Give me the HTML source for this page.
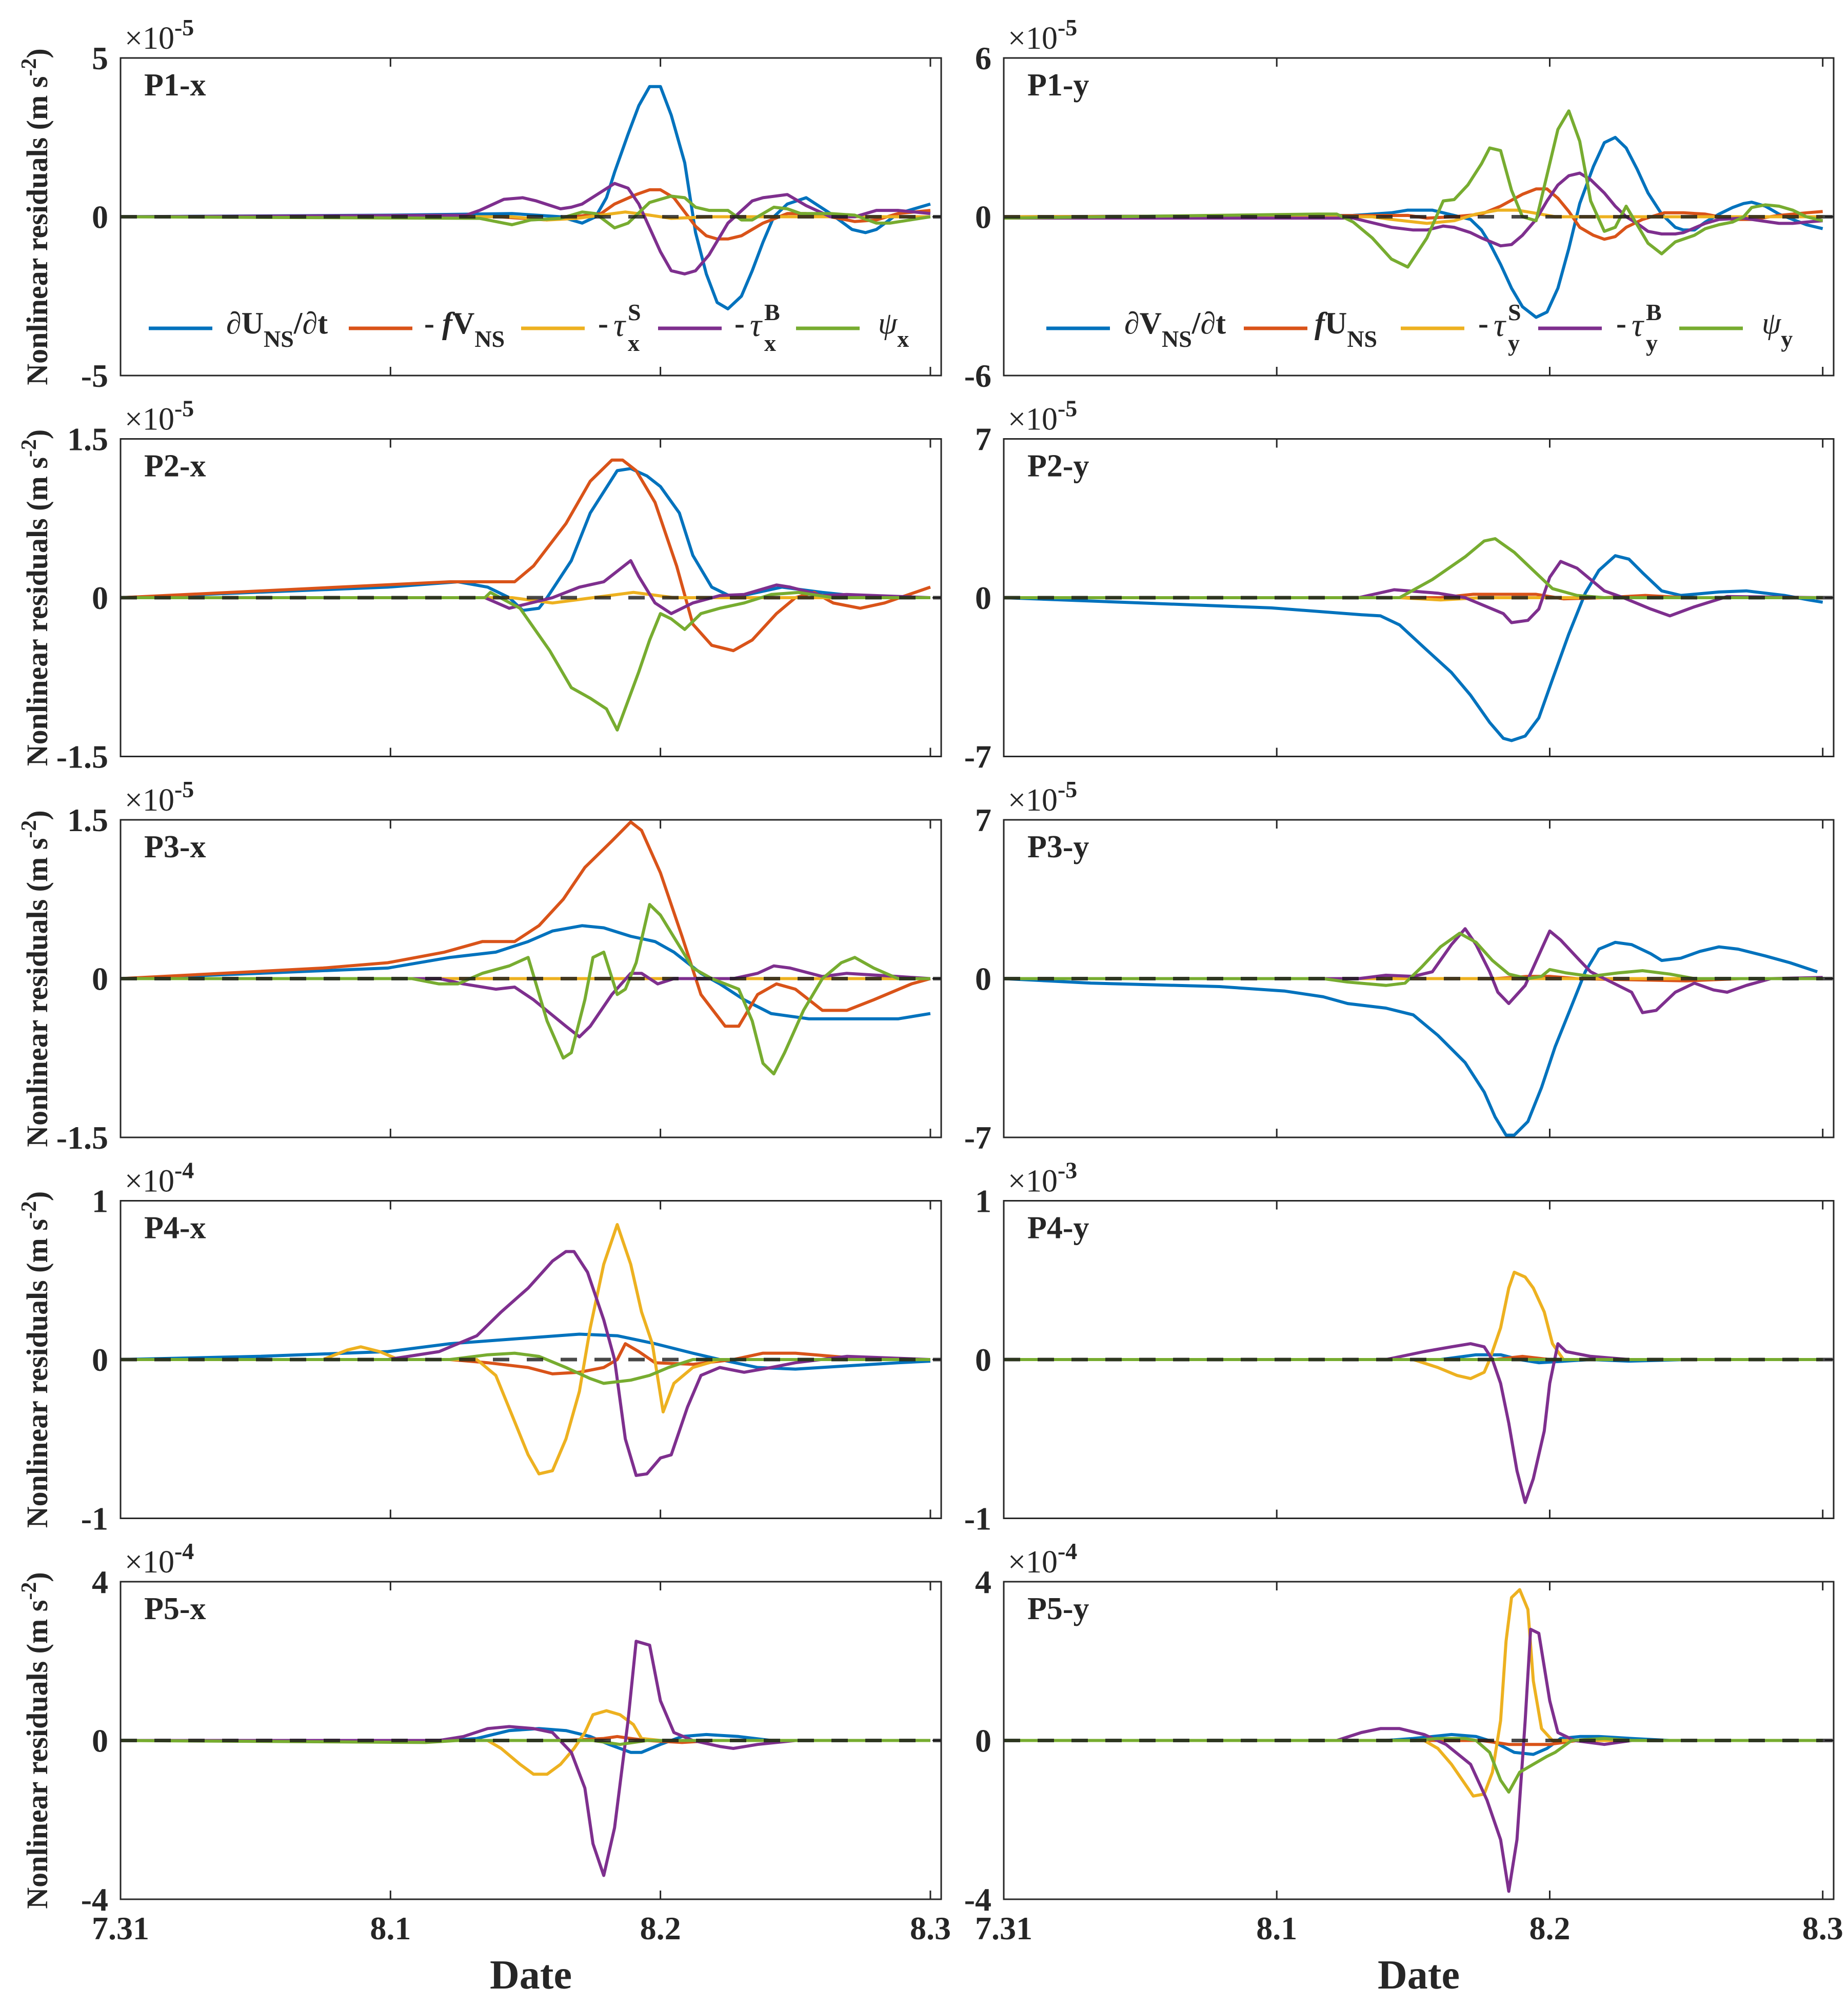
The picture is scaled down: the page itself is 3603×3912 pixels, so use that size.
<!DOCTYPE html>
<html><head><meta charset="utf-8"><title>Nonlinear residuals</title>
<style>html,body{margin:0;padding:0;background:#fff}svg{display:block}
text{font-family:"Liberation Serif",serif;fill:#262626}</style></head>
<body>
<svg id="fig" xmlns="http://www.w3.org/2000/svg" width="3603" height="3912" viewBox="0 0 3603 3912"></svg>
<script>
// x tick categories (days since 7.31)
const xTickDays = [0, 1, 2, 3];
const xTickLabels = ["7.31", "8.1", "8.2", "8.3"];
const xMaxDay = 3.04;
const colors = ["#0072BD", "#D95319", "#EDB120", "#7E2F8E", "#77AC30"];

// panel y-limits (in multiplier units) and exponent labels
const yMaxLeft = [5, 1.5, 1.5, 1, 4];
const yMaxRight = [6, 7, 7, 1, 4];
const expLeft = ["-5", "-5", "-5", "-4", "-4"];
const expRight = ["-5", "-5", "-5", "-3", "-4"];
const labelsLeft = ["P1-x", "P2-x", "P3-x", "P4-x", "P5-x"];
const labelsRight = ["P1-y", "P2-y", "P3-y", "P4-y", "P5-y"];

// ===== P1-x ([day, value]) =====
const p1x_blue = [[0,0],[1.0,0.05],[1.45,0.1],[1.63,0],[1.71,-0.2],[1.76,0],[1.80,0.6],[1.83,1.4],[1.88,2.6],[1.92,3.5],[1.96,4.1],[2.0,4.1],[2.04,3.2],[2.09,1.7],[2.13,-0.5],[2.17,-1.8],[2.21,-2.7],[2.25,-2.9],[2.30,-2.5],[2.34,-1.7],[2.38,-0.8],[2.42,0],[2.47,0.4],[2.54,0.6],[2.63,0.1],[2.71,-0.4],[2.76,-0.5],[2.80,-0.4],[2.88,0.1],[2.96,0.3],[3.0,0.4]];
const p1x_orange = [[0,0],[1.4,0],[1.58,-0.1],[1.78,0.1],[1.83,0.4],[1.91,0.7],[1.96,0.85],[2.0,0.85],[2.05,0.6],[2.13,-0.3],[2.17,-0.6],[2.21,-0.7],[2.25,-0.7],[2.30,-0.6],[2.38,-0.2],[2.47,0.1],[2.54,0.1],[2.63,0],[2.72,-0.15],[2.80,-0.1],[2.88,0.1],[3.0,0.2]];
const p1x_yellow = [[0,0],[1.45,0],[1.58,-0.1],[1.69,-0.05],[1.78,0.05],[1.87,0.15],[1.96,0.05],[2.04,-0.05],[2.2,0],[3.0,0]];
const p1x_purple = [[0,0],[1.28,0.05],[1.33,0.2],[1.42,0.55],[1.49,0.6],[1.54,0.5],[1.63,0.25],[1.67,0.3],[1.71,0.4],[1.83,1.05],[1.88,0.9],[1.92,0.4],[2.0,-1.1],[2.04,-1.7],[2.09,-1.8],[2.13,-1.7],[2.18,-1.2],[2.25,-0.2],[2.34,0.5],[2.38,0.6],[2.47,0.7],[2.54,0.35],[2.63,0],[2.72,0],[2.80,0.2],[2.88,0.2],[3.0,0.1]];
const p1x_green = [[0,0],[1.33,-0.05],[1.42,-0.2],[1.45,-0.25],[1.52,-0.1],[1.63,-0.05],[1.71,0.15],[1.76,0.1],[1.83,-0.35],[1.88,-0.2],[1.96,0.45],[2.04,0.65],[2.09,0.6],[2.13,0.3],[2.18,0.2],[2.25,0.2],[2.30,-0.1],[2.34,-0.1],[2.42,0.3],[2.47,0.25],[2.52,0.1],[2.63,0.1],[2.72,0.05],[2.80,-0.2],[2.85,-0.2],[3.0,0]];
// ===== P1-y =====
const p1y_blue = [[0,0],[1.28,0.05],[1.42,0.15],[1.48,0.25],[1.57,0.25],[1.65,0.05],[1.71,-0.1],[1.75,-0.5],[1.78,-1.0],[1.82,-1.8],[1.86,-2.7],[1.90,-3.4],[1.95,-3.8],[1.99,-3.6],[2.03,-2.7],[2.07,-1.2],[2.11,0.5],[2.16,1.9],[2.20,2.8],[2.24,3.0],[2.28,2.6],[2.32,1.8],[2.36,0.9],[2.41,0.1],[2.46,-0.4],[2.49,-0.5],[2.53,-0.5],[2.57,-0.2],[2.62,0.1],[2.67,0.35],[2.71,0.5],[2.74,0.55],[2.79,0.4],[2.84,0.1],[2.89,-0.1],[2.94,-0.3],[3.0,-0.45]];
const p1y_orange = [[0,0],[1.48,0.05],[1.55,-0.05],[1.65,0],[1.75,0.1],[1.82,0.4],[1.90,0.85],[1.95,1.05],[1.99,1.05],[2.03,0.7],[2.07,0.2],[2.11,-0.4],[2.16,-0.7],[2.20,-0.85],[2.24,-0.75],[2.28,-0.4],[2.34,-0.1],[2.42,0.15],[2.49,0.15],[2.57,0.1],[2.67,-0.1],[2.74,-0.1],[2.84,0.05],[2.94,0.15],[3.0,0.2]];
const p1y_yellow = [[0,0],[1.35,0],[1.42,-0.1],[1.55,-0.25],[1.65,-0.15],[1.73,0.1],[1.81,0.25],[1.88,0.25],[1.94,0.15],[2.02,0],[3.0,0]];
const p1y_purple = [[0,-0.05],[1.22,-0.05],[1.28,-0.05],[1.42,-0.4],[1.50,-0.5],[1.55,-0.5],[1.61,-0.35],[1.65,-0.4],[1.71,-0.6],[1.75,-0.8],[1.82,-1.1],[1.86,-1.05],[1.90,-0.7],[1.95,-0.1],[1.99,0.6],[2.03,1.2],[2.07,1.55],[2.11,1.65],[2.15,1.4],[2.20,0.9],[2.24,0.4],[2.28,0],[2.32,-0.25],[2.36,-0.55],[2.41,-0.65],[2.46,-0.65],[2.49,-0.6],[2.57,-0.25],[2.62,-0.1],[2.71,-0.05],[2.74,-0.1],[2.84,-0.25],[2.89,-0.25],[2.94,-0.2],[3.0,-0.15]];
const p1y_green = [[0,-0.05],[1.15,0.1],[1.22,0.1],[1.28,-0.2],[1.35,-0.8],[1.42,-1.6],[1.48,-1.9],[1.55,-0.8],[1.61,0.6],[1.65,0.65],[1.70,1.2],[1.75,2.0],[1.78,2.6],[1.82,2.5],[1.86,1.0],[1.90,0],[1.95,-0.15],[2.03,3.3],[2.07,4.0],[2.11,2.85],[2.15,0.6],[2.20,-0.55],[2.24,-0.4],[2.28,0.4],[2.32,-0.3],[2.36,-1.0],[2.41,-1.4],[2.46,-0.95],[2.53,-0.7],[2.57,-0.45],[2.62,-0.3],[2.67,-0.2],[2.71,0],[2.74,0.35],[2.79,0.45],[2.84,0.4],[2.89,0.25],[2.94,0],[3.0,-0.15]];
// ===== P2-x =====
const p2x_blue = [[0,0],[0.99,0.1],[1.25,0.15],[1.36,0.1],[1.44,0],[1.49,-0.12],[1.55,-0.1],[1.58,0],[1.67,0.35],[1.74,0.8],[1.84,1.2],[1.89,1.22],[1.95,1.15],[2.0,1.05],[2.07,0.8],[2.12,0.4],[2.19,0.1],[2.27,0],[2.36,0.05],[2.45,0.1],[2.60,0.05],[2.79,0],[3.0,0]];
const p2x_orange = [[0,0],[1.22,0.15],[1.46,0.15],[1.53,0.3],[1.65,0.7],[1.74,1.1],[1.82,1.3],[1.86,1.3],[1.91,1.2],[1.98,0.9],[2.06,0.3],[2.12,-0.25],[2.19,-0.45],[2.27,-0.5],[2.34,-0.4],[2.43,-0.15],[2.50,0],[2.57,0.05],[2.64,-0.05],[2.74,-0.1],[2.83,-0.05],[3.0,0.1]];
const p2x_yellow = [[0,0],[1.45,0],[1.6,-0.05],[1.75,0],[1.9,0.05],[2.05,0],[3.0,0]];
const p2x_purple = [[0,0],[1.35,0],[1.44,-0.1],[1.6,0],[1.7,0.1],[1.79,0.15],[1.89,0.35],[1.92,0.2],[1.98,-0.05],[2.04,-0.15],[2.12,-0.05],[2.22,0.02],[2.31,0.03],[2.43,0.12],[2.48,0.1],[2.60,0.02],[2.69,0.03],[3.0,0]];
const p2x_green = [[0,0],[1.35,0],[1.37,0.05],[1.48,-0.1],[1.59,-0.5],[1.67,-0.85],[1.74,-0.95],[1.80,-1.05],[1.84,-1.25],[1.92,-0.7],[1.96,-0.4],[2.0,-0.15],[2.04,-0.2],[2.09,-0.3],[2.15,-0.15],[2.22,-0.1],[2.31,-0.05],[2.41,0.03],[2.51,0.05],[2.64,0],[3.0,0]];
// ===== P2-y =====
const p2y_blue = [[0,0],[0.98,-0.45],[1.31,-0.75],[1.38,-0.8],[1.45,-1.2],[1.54,-2.2],[1.64,-3.3],[1.71,-4.3],[1.78,-5.5],[1.83,-6.2],[1.86,-6.3],[1.91,-6.1],[1.96,-5.3],[2.01,-3.6],[2.07,-1.6],[2.13,0.2],[2.18,1.2],[2.24,1.85],[2.29,1.7],[2.34,1.1],[2.41,0.3],[2.48,0.1],[2.62,0.25],[2.72,0.3],[2.86,0.1],[2.95,-0.1],[3.0,-0.2]];
const p2y_orange = [[0,0],[1.6,0],[1.72,0.15],[1.95,0.15],[2.05,-0.05],[2.2,0],[2.35,0.1],[2.5,0],[3.0,0]];
const p2y_yellow = [[0,0],[1.45,0],[1.6,-0.1],[1.75,0],[3.0,0]];
const p2y_purple = [[0,0],[1.3,0],[1.43,0.35],[1.59,0.2],[1.69,0],[1.83,-0.7],[1.86,-1.1],[1.92,-1.0],[1.96,-0.5],[2.0,0.9],[2.04,1.6],[2.1,1.3],[2.2,0.3],[2.27,0],[2.37,-0.5],[2.44,-0.8],[2.53,-0.4],[2.65,0.05],[3.0,0]];
const p2y_green = [[0,0],[1.45,0],[1.57,0.8],[1.69,1.8],[1.76,2.5],[1.8,2.6],[1.87,2.0],[1.94,1.2],[2.01,0.4],[2.1,0.1],[2.2,0],[3.0,0]];
// ===== P3-x =====
const p3x_blue = [[0,0],[0.51,0.05],[0.99,0.1],[1.22,0.2],[1.39,0.25],[1.51,0.35],[1.6,0.45],[1.71,0.5],[1.79,0.48],[1.89,0.4],[1.98,0.35],[2.05,0.25],[2.15,0.05],[2.22,-0.05],[2.31,-0.2],[2.41,-0.33],[2.55,-0.38],[2.88,-0.38],[3.0,-0.33]];
const p3x_orange = [[0,0],[0.75,0.1],[0.99,0.15],[1.2,0.25],[1.34,0.35],[1.46,0.35],[1.55,0.5],[1.64,0.75],[1.72,1.05],[1.82,1.3],[1.89,1.48],[1.93,1.4],[2.0,1.0],[2.08,0.4],[2.15,-0.15],[2.24,-0.45],[2.29,-0.45],[2.36,-0.15],[2.43,-0.05],[2.50,-0.1],[2.6,-0.3],[2.69,-0.3],[2.79,-0.2],[2.93,-0.05],[3.0,0]];
const p3x_yellow = [[0,0],[3.0,0]];
const p3x_purple = [[0,0],[1.18,0],[1.27,-0.05],[1.39,-0.1],[1.46,-0.08],[1.53,-0.2],[1.65,-0.45],[1.7,-0.55],[1.74,-0.45],[1.82,-0.15],[1.89,0.05],[1.93,0.05],[1.99,-0.05],[2.05,0],[2.27,0],[2.36,0.05],[2.42,0.12],[2.48,0.1],[2.6,0.02],[2.69,0.05],[2.88,0.02],[3.0,0]];
const p3x_green = [[0,0],[1.08,0],[1.18,-0.05],[1.25,-0.05],[1.34,0.05],[1.44,0.12],[1.51,0.2],[1.58,-0.4],[1.64,-0.75],[1.67,-0.7],[1.72,-0.2],[1.75,0.2],[1.79,0.25],[1.84,-0.15],[1.87,-0.1],[1.91,0.15],[1.96,0.7],[2.0,0.6],[2.06,0.35],[2.12,0.1],[2.19,0],[2.29,-0.1],[2.34,-0.4],[2.38,-0.8],[2.42,-0.9],[2.46,-0.7],[2.53,-0.3],[2.6,0],[2.67,0.15],[2.72,0.2],[2.79,0.1],[2.88,0],[3.0,0]];
// ===== P3-y =====
const p3y_blue = [[0,0],[0.32,-0.2],[0.79,-0.35],[1.03,-0.55],[1.17,-0.8],[1.26,-1.1],[1.4,-1.3],[1.5,-1.6],[1.59,-2.5],[1.69,-3.7],[1.76,-5.0],[1.8,-6.1],[1.84,-6.9],[1.87,-6.9],[1.92,-6.3],[1.97,-4.8],[2.02,-3.0],[2.08,-1.2],[2.13,0.3],[2.18,1.3],[2.24,1.6],[2.3,1.5],[2.37,1.1],[2.41,0.8],[2.48,0.9],[2.55,1.2],[2.62,1.4],[2.69,1.3],[2.79,1.0],[2.88,0.7],[2.98,0.3]];
const p3y_orange = [[0,0],[1.8,0],[1.92,0.1],[2.0,0.1],[2.1,0],[2.5,-0.1],[2.7,0],[3.0,0]];
const p3y_yellow = [[0,0],[3.0,0]];
const p3y_purple = [[0,0],[1.3,0],[1.4,0.15],[1.5,0.1],[1.57,0.3],[1.64,1.5],[1.69,2.2],[1.73,1.5],[1.78,0.3],[1.81,-0.6],[1.85,-1.1],[1.91,-0.3],[1.97,1.3],[2.0,2.1],[2.04,1.7],[2.11,0.8],[2.15,0.3],[2.2,0],[2.3,-0.6],[2.34,-1.5],[2.39,-1.4],[2.46,-0.6],[2.53,-0.2],[2.6,-0.5],[2.65,-0.6],[2.72,-0.3],[2.81,0],[3.0,0.05]];
const p3y_green = [[0,0],[1.17,0],[1.26,-0.15],[1.4,-0.3],[1.47,-0.2],[1.53,0.5],[1.6,1.4],[1.67,2.0],[1.73,1.6],[1.79,0.8],[1.85,0.2],[1.92,0],[1.97,0.1],[2.0,0.4],[2.06,0.25],[2.15,0.1],[2.25,0.25],[2.34,0.35],[2.44,0.2],[2.53,0],[3.0,0]];
// ===== P4-x =====
const p4x_blue = [[0,0],[0.51,0.02],[0.99,0.05],[1.22,0.1],[1.46,0.13],[1.7,0.16],[1.84,0.15],[1.98,0.1],[2.12,0.04],[2.22,0],[2.36,-0.05],[2.5,-0.06],[2.69,-0.04],[2.88,-0.02],[3.0,-0.01]];
const p4x_orange = [[0,0],[1.22,0],[1.36,-0.02],[1.51,-0.05],[1.6,-0.09],[1.7,-0.08],[1.79,-0.05],[1.84,0],[1.87,0.1],[1.92,0.05],[1.98,-0.02],[2.12,-0.03],[2.27,0],[2.38,0.04],[2.5,0.04],[2.64,0.02],[2.79,0],[3.0,0]];
const p4x_yellow = [[0,0],[0.75,0],[0.84,0.06],[0.89,0.08],[0.96,0.05],[1.03,0],[1.32,0],[1.39,-0.1],[1.45,-0.35],[1.51,-0.6],[1.55,-0.72],[1.6,-0.7],[1.65,-0.5],[1.7,-0.2],[1.74,0.2],[1.79,0.6],[1.84,0.85],[1.89,0.6],[1.93,0.3],[1.97,0.1],[2.01,-0.33],[2.05,-0.15],[2.12,-0.05],[2.22,0],[3.0,0]];
const p4x_purple = [[0,0],[0.99,0],[1.18,0.05],[1.32,0.15],[1.41,0.3],[1.51,0.45],[1.6,0.62],[1.65,0.68],[1.68,0.68],[1.73,0.55],[1.79,0.25],[1.83,0],[1.87,-0.5],[1.91,-0.73],[1.95,-0.72],[2.0,-0.62],[2.04,-0.6],[2.1,-0.3],[2.15,-0.1],[2.22,-0.05],[2.31,-0.08],[2.41,-0.05],[2.5,-0.02],[2.69,0.02],[3.0,0]];
const p4x_green = [[0,0],[1.22,0],[1.36,0.03],[1.46,0.04],[1.55,0.02],[1.65,-0.05],[1.74,-0.12],[1.79,-0.15],[1.89,-0.13],[1.96,-0.1],[2.03,-0.05],[2.12,0],[3.0,0]];
// ===== P4-y =====
const p4y_blue = [[0,0],[1.6,0],[1.73,0.03],[1.82,0.03],[1.89,0],[1.96,-0.02],[2.15,0],[2.29,-0.01],[2.5,0],[3.0,0]];
const p4y_orange = [[0,0],[1.8,0],[1.9,0.02],[2.0,0],[3.0,0]];
const p4y_yellow = [[0,0],[1.5,0],[1.59,-0.05],[1.66,-0.1],[1.71,-0.12],[1.76,-0.08],[1.78,0],[1.82,0.2],[1.85,0.45],[1.87,0.55],[1.91,0.52],[1.94,0.45],[1.98,0.3],[2.01,0.1],[2.05,0],[3.0,0]];
const p4y_purple = [[0,0],[1.4,0],[1.54,0.05],[1.64,0.08],[1.71,0.1],[1.76,0.08],[1.79,0],[1.82,-0.15],[1.85,-0.4],[1.88,-0.7],[1.91,-0.9],[1.94,-0.75],[1.98,-0.45],[2.0,-0.15],[2.03,0.1],[2.06,0.05],[2.15,0.02],[2.29,0],[3.0,0]];
const p4y_green = [[0,0],[3.0,0]];
// ===== P5-x =====
const p5x_blue = [[0,0],[1.22,0],[1.32,0.05],[1.44,0.25],[1.55,0.3],[1.65,0.25],[1.74,0.1],[1.81,-0.1],[1.89,-0.3],[1.93,-0.3],[2.0,-0.1],[2.08,0.1],[2.17,0.15],[2.29,0.1],[2.41,0],[3.0,0]];
const p5x_orange = [[0,0],[1.65,0],[1.79,0.05],[1.84,0.1],[1.89,0.05],[1.95,0],[2.08,-0.05],[2.2,0],[3.0,0]];
const p5x_yellow = [[0,0],[1.36,0],[1.41,-0.2],[1.48,-0.6],[1.53,-0.85],[1.58,-0.85],[1.63,-0.6],[1.68,-0.2],[1.72,0.2],[1.75,0.65],[1.8,0.75],[1.85,0.65],[1.9,0.4],[1.93,0.05],[2.0,0],[3.0,0]];
const p5x_purple = [[0,0],[1.18,0],[1.27,0.1],[1.36,0.3],[1.44,0.35],[1.53,0.3],[1.6,0.2],[1.67,-0.3],[1.72,-1.2],[1.75,-2.6],[1.79,-3.4],[1.83,-2.2],[1.88,0.5],[1.91,2.5],[1.96,2.4],[2.0,1.0],[2.05,0.2],[2.12,0],[2.22,-0.15],[2.27,-0.2],[2.36,-0.1],[2.5,0],[3.0,0]];
const p5x_green = [[0,0],[1.13,-0.05],[1.25,0],[1.75,0],[1.85,-0.1],[1.95,0],[3.0,0]];
// ===== P5-y =====
const p5y_blue = [[0,0],[1.4,0],[1.5,0.05],[1.64,0.15],[1.73,0.1],[1.8,-0.05],[1.87,-0.3],[1.94,-0.35],[1.99,-0.2],[2.04,0.05],[2.11,0.1],[2.18,0.1],[2.3,0.05],[2.44,0],[3.0,0]];
const p5y_orange = [[0,0],[1.75,0],[1.85,-0.1],[2.0,-0.1],[2.1,0],[3.0,0]];
const p5y_yellow = [[0,0],[1.54,0],[1.59,-0.2],[1.64,-0.6],[1.69,-1.1],[1.72,-1.4],[1.76,-1.35],[1.79,-0.8],[1.82,0.5],[1.84,2.5],[1.86,3.6],[1.89,3.8],[1.92,3.3],[1.94,1.5],[1.97,0.3],[2.01,0],[3.0,0]];
const p5y_purple = [[0,0],[1.22,0],[1.31,0.2],[1.38,0.3],[1.45,0.3],[1.54,0.15],[1.62,-0.1],[1.71,-0.6],[1.77,-1.5],[1.82,-2.5],[1.85,-3.8],[1.88,-2.5],[1.91,0.5],[1.93,2.8],[1.96,2.7],[2.0,1.0],[2.03,0.2],[2.09,0],[2.2,-0.1],[2.3,0],[3.0,0]];
const p5y_green = [[0,0],[1.5,0],[1.59,0.05],[1.69,0.05],[1.73,0],[1.78,-0.3],[1.82,-1.0],[1.85,-1.3],[1.89,-0.8],[1.94,-0.6],[1.99,-0.4],[2.02,-0.3],[2.08,0],[2.2,0.05],[2.3,0],[3.0,0]];

const leftSeries = [
  [p1x_blue,p1x_orange,p1x_yellow,p1x_purple,p1x_green],
  [p2x_blue,p2x_orange,p2x_yellow,p2x_purple,p2x_green],
  [p3x_blue,p3x_orange,p3x_yellow,p3x_purple,p3x_green],
  [p4x_blue,p4x_orange,p4x_yellow,p4x_purple,p4x_green],
  [p5x_blue,p5x_orange,p5x_yellow,p5x_purple,p5x_green]];
const rightSeries = [
  [p1y_blue,p1y_orange,p1y_yellow,p1y_purple,p1y_green],
  [p2y_blue,p2y_orange,p2y_yellow,p2y_purple,p2y_green],
  [p3y_blue,p3y_orange,p3y_yellow,p3y_purple,p3y_green],
  [p4y_blue,p4y_orange,p4y_yellow,p4y_purple,p4y_green],
  [p5y_blue,p5y_orange,p5y_yellow,p5y_purple,p5y_green]];
const seriesNames = ["dudt","coriolis","surface-stress","bottom-stress","psi"];

const NS = "http://www.w3.org/2000/svg";
const svg = document.getElementById("fig");
function mk(tag, attrs, parent) {
  const e = document.createElementNS(NS, tag);
  for (const k in attrs) e.setAttribute(k, attrs[k]);
  (parent || svg).appendChild(e);
  return e;
}
function txt(parent, x, y, size, weight, anchor, content) {
  const t = mk("text", {x: x, y: y, "font-size": size, "font-weight": weight, "text-anchor": anchor}, parent);
  t.innerHTML = content;
  return t;
}

function drawPanel(col, row) {
  const x0 = col ? 1957 : 235;
  const w = col ? 1618 : 1600;
  const top = 113 + row * 742.5;
  const h = 619;
  const yMax = col ? yMaxRight[row] : yMaxLeft[row];
  const sx = d => x0 + d / xMaxDay * w;
  const sy = v => top + h / 2 - v / yMax * (h / 2);
  const g = mk("g", {});
  
  

  xTickDays.forEach((d, i) => {
    const tk = mk("path", {d: `M${sx(d)},${top}v17M${sx(d)},${top+h}v-17`, stroke: "#262626", "stroke-width": 3}, g);
    
    
    if (row === 4) {
      const tl = txt(g, sx(d), 3780, 64, "bold", "middle", xTickLabels[i]);
      
      
    }
  });
  [yMax, 0, -yMax].forEach(v => {
    const yt = mk("path", {d: `M${x0},${sy(v)}h17M${x0+w},${sy(v)}h-17`, stroke: "#262626", "stroke-width": 3}, g);
    
    
    const yl = txt(g, x0 - 24, sy(v) + 22, 64, "bold", "end", v < 0 ? "-" + (-v) : String(v));
    
    
  });
  const ex = txt(g, x0 + 8, top - 18, 62, "normal", "start", "×10<tspan dy='-26' font-size='46' font-weight='bold'>" + (col ? expRight[row] : expLeft[row]) + "</tspan>");
  
  

  const series = col ? rightSeries[row] : leftSeries[row];
  series.forEach((s, i) => {
    const d = s.map((p, j) => (j ? "L" : "M") + sx(p[0]).toFixed(1) + "," + sy(p[1]).toFixed(1)).join("");
    const ln = mk("path", {d: d, fill: "none", stroke: colors[i], "stroke-width": 6, "stroke-linejoin": "round"}, g);
    
    
  });
  const z = mk("line", {x1: x0, x2: x0 + w, y1: sy(0), y2: sy(0), stroke: "#1a1a1a", "stroke-opacity": 0.8, "stroke-width": 7, "stroke-dasharray": "32 34"}, g);
  
  
  const fr = mk("rect", {x: x0, y: top, width: w, height: h, fill: "none", stroke: "#262626", "stroke-width": 3}, g);
  
  
  const pl = txt(g, x0 + 46, top + 73, 62, "bold", "start", col ? labelsRight[row] : labelsLeft[row]);
  
  

  if (!col) {
    const yt = mk("text", {x: 0, y: 0, "font-size": 58, "font-weight": "bold", "text-anchor": "middle", transform: `translate(92,${top + h/2}) rotate(-90)`}, g);
    yt.innerHTML = "Nonlinear residuals (m s<tspan dy='-22' font-size='42'>-2</tspan><tspan dy='22'>)</tspan>";
    
    
  }
  if (row === 4) {
    const xt = txt(g, x0 + w / 2, 3876, 80, "bold", "middle", "Date");
    
    
  }
}
for (let r = 0; r < 5; r++) { drawPanel(0, r); drawPanel(1, r); }

// legends
function legendEntry(parent, lineX, textX, i, kind, sub, sup) {
  const g = mk("g", {}, parent);
  
  
  mk("line", {x1: lineX, x2: lineX + 124, y1: 640, y2: 640, stroke: colors[i], "stroke-width": 7}, g);
  if (kind === "tau") {
    txt(g, textX, 650, 60, "bold", "start", "-");
    txt(g, textX + 30, 655, 64, "normal", "start", "<tspan font-style='italic'>τ</tspan>");
    txt(g, textX + 58, 624, 46, "bold", "start", sup);
    txt(g, textX + 58, 684, 46, "bold", "start", sub);
  } else {
    txt(g, textX, 650, 60, "bold", "start", kind);
  }
}
const lgL = mk("g", {});


legendEntry(lgL, 290, 441, 0, "∂U<tspan dy='26' font-size='46'>NS</tspan><tspan dy='-26'>/∂t</tspan>");
legendEntry(lgL, 680, 827, 1, "- <tspan font-style='italic'>f</tspan>V<tspan dy='26' font-size='46'>NS</tspan>");
legendEntry(lgL, 1016, 1166, 2, "tau", "x", "S");
legendEntry(lgL, 1283, 1432, 3, "tau", "x", "B");
legendEntry(lgL, 1552, 1712, 4, "<tspan font-style='italic' font-weight='normal'>ψ</tspan><tspan dy='26' font-size='46'>x</tspan>");
const lgR = mk("g", {});


legendEntry(lgR, 2040, 2192, 0, "∂V<tspan dy='26' font-size='46'>NS</tspan><tspan dy='-26'>/∂t</tspan>");
legendEntry(lgR, 2425, 2563, 1, "<tspan font-style='italic'>f</tspan>U<tspan dy='26' font-size='46'>NS</tspan>");
legendEntry(lgR, 2731, 2882, 2, "tau", "y", "S");
legendEntry(lgR, 2999, 3151, 3, "tau", "y", "B");
legendEntry(lgR, 3274, 3435, 4, "<tspan font-style='italic' font-weight='normal'>ψ</tspan><tspan dy='26' font-size='46'>y</tspan>");
</script>
</body></html>
